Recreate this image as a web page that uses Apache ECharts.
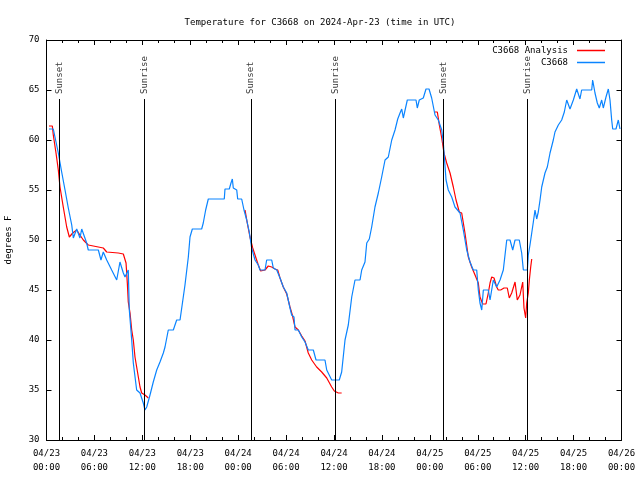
<!DOCTYPE html>
<html><head><meta charset="utf-8">
<script src="https://cdn.jsdelivr.net/npm/echarts@6/dist/echarts.min.js"></script>
<style>html,body{margin:0;padding:0;background:#fff}#c{width:640px;height:480px}</style>
</head><body><div id="c"></div>
<script>
// hours since 2024-04-23 00:00 UTC
const blueT=[0.31,0.85,1.48,1.90,2.32,2.73,3.16,3.36,3.78,4.19,4.41,5.03,5.23,6.49,6.82,7.11,7.54,8.16,8.79,9.20,9.62,9.83,10.24,10.37,10.67,10.87,11.29,11.71,12.12,12.33,12.55,12.96,13.37,13.80,14.21,14.63,14.84,15.25,15.88,16.30,16.72,17.34,17.76,17.97,18.26,19.43,19.63,19.93,20.26,22.26,22.35,22.89,23.10,23.27,23.39,23.82,23.94,24.44,24.73,25.07,25.39,25.69,26.11,26.52,26.73,27.36,27.57,28.20,28.40,28.83,29.24,29.65,30.08,30.49,30.70,30.99,31.12,31.53,31.96,32.37,32.78,33.41,33.75,34.87,35.09,35.71,36.66,36.96,37.38,37.79,38.22,38.63,39.26,39.47,39.88,40.10,40.42,40.72,41.13,41.55,41.97,42.39,42.80,43.23,43.64,43.98,44.27,44.48,44.68,45.18,46.27,46.43,46.68,47.18,47.52,47.90,48.23,48.65,49.06,49.49,49.69,50.03,50.31,50.74,51.15,51.78,52.19,52.62,53.03,53.44,53.87,54.07,54.28,54.50,54.70,55.32,55.54,55.95,56.37,56.79,57.20,57.63,58.04,58.38,58.67,59.20,59.50,59.71,60.21,60.33,60.54,60.76,60.96,61.17,61.38,61.58,61.80,62.01,62.42,62.71,63.05,63.46,63.67,64.09,64.51,64.84,65.14,65.55,65.97,66.39,66.80,67.01,68.27,68.39,68.68,68.97,69.22,69.52,69.72,70.06,70.35,70.56,70.77,70.90,71.31,71.60,71.81];
const blueV=[61.1,61.1,58.7,56.8,55.0,53.2,51.5,50.2,51.1,50.2,51.1,49.7,49.0,49.0,48.0,48.8,48.0,47.0,46.0,47.8,46.7,46.3,47.0,43.0,40.0,37.7,35.0,34.7,33.7,33.0,33.3,34.5,35.8,37.0,37.8,38.7,39.3,41.0,41.0,42.0,42.0,45.5,48.3,50.3,51.1,51.1,51.7,53.0,54.1,54.1,55.1,55.1,55.7,56.1,55.2,55.0,54.1,54.1,53.0,52.0,50.8,49.2,48.0,47.5,47.0,47.0,48.0,48.0,47.2,47.0,46.2,45.3,44.7,43.2,42.5,42.3,41.0,41.0,40.3,39.8,39.0,39.0,38.0,38.0,37.0,36.0,36.0,36.8,40.0,41.5,44.3,46.0,46.0,47.0,47.8,49.7,50.1,51.3,53.3,54.7,56.3,58.0,58.3,60.0,61.0,62.1,62.7,63.1,62.2,64.0,64.0,63.2,64.0,64.2,65.1,65.1,64.2,62.5,62.0,61.0,59.7,56.0,55.0,54.3,53.3,52.7,51.0,49.0,47.8,47.0,47.0,45.0,43.7,43.0,45.0,45.0,44.0,46.0,45.3,46.0,47.0,50.0,50.0,49.0,50.0,50.0,48.7,47.0,47.0,48.5,49.5,50.7,51.8,53.0,52.1,52.8,54.0,55.3,56.7,57.3,58.7,60.0,60.8,61.5,62.0,62.8,64.0,63.1,64.0,65.1,64.1,65.0,65.0,66.0,64.7,63.7,63.2,64.0,63.2,64.3,65.1,64.0,62.0,61.1,61.1,62.0,61.1];
const redT=[0.31,0.73,0.85,1.19,1.48,1.69,2.10,2.53,2.86,3.28,3.78,4.19,4.61,5.23,6.49,7.11,7.54,8.99,9.62,9.83,9.96,10.12,10.24,10.46,10.67,10.87,11.08,11.29,11.50,11.71,11.92,12.33,12.75,
  18.0,
  24.86,25.14,25.48,25.82,26.23,26.52,26.82,27.36,27.77,28.20,28.61,28.95,29.24,29.65,30.08,30.49,30.78,31.12,31.53,31.96,32.37,32.78,33.21,33.83,34.46,35.09,35.71,36.04,36.54,36.96,
  42.0,
  48.65,48.94,49.19,49.49,49.77,50.11,50.53,50.94,51.28,51.69,51.99,52.40,52.82,53.24,53.66,54.07,54.28,54.62,55.03,55.32,55.54,55.75,56.04,56.37,56.57,56.87,57.29,57.70,57.95,58.25,58.67,58.95,59.29,59.63,59.79,60.00,60.13,60.33,60.46,60.63,60.76];
const redV=[61.4,61.4,60.5,58.7,57.0,55.3,53.3,51.3,50.3,50.7,51.0,50.5,50.0,49.5,49.3,49.2,48.8,48.7,48.6,48.5,47.7,45.7,43.8,42.7,41.0,40.0,38.3,37.3,36.3,35.3,34.7,34.5,34.2,
  null,
  53.0,51.7,50.3,49.2,48.2,47.5,46.9,47.0,47.4,47.3,47.1,47.0,46.2,45.3,44.6,43.3,42.5,41.3,41.0,40.4,39.9,38.7,38.0,37.3,36.8,36.2,35.3,34.9,34.7,34.7,
  null,
  62.8,62.8,61.5,60.2,58.7,57.7,56.7,55.3,54.0,52.8,52.7,50.7,48.3,47.3,46.5,45.7,44.3,43.6,43.6,44.7,45.7,46.3,46.2,45.3,45.0,45.0,45.2,45.2,44.2,44.7,45.8,44.0,44.5,45.8,43.2,42.2,43.7,44.7,46.0,47.3,48.1];
const sunT=[1.60,12.25,25.61,36.16,49.69,60.20];
const sunNames=['Sunset','Sunrise','Sunset','Sunrise','Sunset','Sunrise'];
const xTickLabels=['04/23\n00:00','04/23\n06:00','04/23\n12:00','04/23\n18:00','04/24\n00:00','04/24\n06:00','04/24\n12:00','04/24\n18:00','04/25\n00:00','04/25\n06:00','04/25\n12:00','04/25\n18:00','04/26\n00:00'];
const yTicks=[30,35,40,45,50,55,60,65,70];

const FONT='DejaVu Sans Mono';
const blueData=blueT.map((t,i)=>[t,blueV[i]]);
const redData=redT.map((t,i)=>[t,redV[i]]);
const sunLines=sunT.map(t=>[{coord:[t,30]},{coord:[t,64.1]}]);
const sunLabels=sunT.map((t,i)=>({value:[t,64.6],name:sunNames[i]}));

const chart=echarts.init(document.getElementById('c'),null,{renderer:'canvas'});
const xCommon={type:'value',min:0,max:72,interval:6,
  axisLine:{show:true,onZero:false,lineStyle:{color:'#000',width:1}},
  axisTick:{show:true,inside:true,length:5,lineStyle:{color:'#000'}},
  minorTick:{show:true,splitNumber:3,length:3,lineStyle:{color:'#000'}},
  splitLine:{show:false}};
const yCommon={type:'value',min:30,max:70,interval:5,
  axisLine:{show:true,onZero:false,lineStyle:{color:'#000',width:1}},
  axisTick:{show:true,inside:true,length:5,lineStyle:{color:'#000'}},
  splitLine:{show:false}};
chart.setOption({
  animation:false,
  backgroundColor:'#fff',
  title:{text:'Temperature for C3668 on 2024-Apr-23 (time in UTC)',left:'center',top:13,
    textStyle:{fontFamily:FONT,fontSize:9,fontWeight:'normal',color:'#000'}},
  legend:{orient:'vertical',right:30,top:41,align:'right',itemGap:3,itemWidth:28,itemHeight:1.5,icon:'rect',
    textStyle:{fontFamily:FONT,fontSize:9,color:'#000',padding:[0,4,0,0]},
    data:['C3668 Analysis','C3668']},
  grid:{left:46.5,right:18.5,top:40,bottom:40,containLabel:false,outerBoundsMode:'none'},
  xAxis:[
    Object.assign({},xCommon,{position:'bottom',
      axisLabel:{show:true,margin:7,fontFamily:FONT,fontSize:9,color:'#000',lineHeight:14,
        formatter:v=>xTickLabels[Math.round(v/6)]}}),
    Object.assign({},xCommon,{position:'top',axisLabel:{show:false}})
  ],
  yAxis:[
    Object.assign({},yCommon,{position:'left',name:'degrees F',nameLocation:'middle',nameGap:33,nameRotate:90,
      nameTextStyle:{fontFamily:FONT,fontSize:9,color:'#000'},
      axisLabel:{show:true,margin:7,fontFamily:FONT,fontSize:9,color:'#000',
        formatter:v=>yTicks.includes(v)?String(v):''}}),
    Object.assign({},yCommon,{position:'right',axisLabel:{show:false}})
  ],
  series:[
    {name:'sun',type:'scatter',data:sunLabels,symbolSize:0,silent:true,z:1,
      label:{show:true,position:'inside',rotate:90,align:'left',verticalAlign:'middle',
        fontFamily:FONT,fontSize:9,color:'#000',formatter:p=>p.name},
      markLine:{silent:true,symbol:['none','none'],label:{show:false},
        lineStyle:{color:'#000',width:1,type:'solid'},data:sunLines}},
    {name:'C3668 Analysis',type:'line',data:redData,showSymbol:false,connectNulls:false,z:3,
      itemStyle:{color:'#ff0000'},lineStyle:{color:'#ff0000',width:1.2}},
    {name:'C3668',type:'line',data:blueData,showSymbol:false,z:4,
      itemStyle:{color:'#0a84ff'},lineStyle:{color:'#0a84ff',width:1.2}}
  ]
});
</script>
</body></html>
